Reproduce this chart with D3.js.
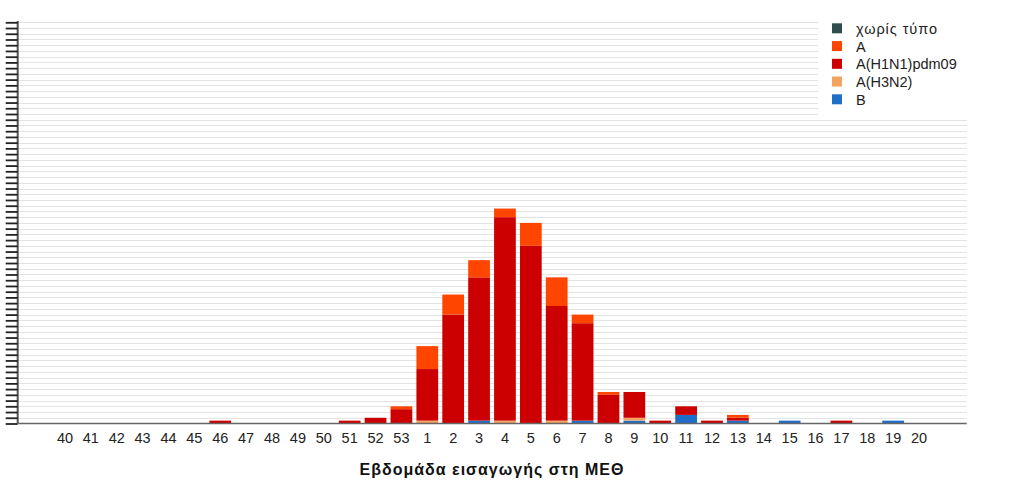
<!DOCTYPE html>
<html>
<head>
<meta charset="utf-8">
<script src="https://cdn.jsdelivr.net/npm/d3@7"></script>
<style>
  html, body { margin: 0; padding: 0; background: #fff; }
  svg { display: block; }
  text { font-family: "Liberation Sans", Arial, Helvetica, sans-serif; }
</style>
</head>
<body>
<svg id="chart" width="1013" height="494"></svg>
<script>
// ---- data ----
const weeks = ["40","41","42","43","44","45","46","47","48","49","50","51","52","53",
               "1","2","3","4","5","6","7","8","9","10","11","12","13","14","15","16","17","18","19","20"];
// series values, one per week
const untyped = [0,0,0,0,0,0,0,0,0,0,0,0,0,0, 0,0,0,0,0,0,0,0,0,0,0,0,0,0,0,0,0,0,0,0];
const typeA   = [0,0,0,0,0,0,0,0,0,0,0,0,0,1, 8,7,6,3,8,10,3,1,0,0,0,0,1,0,0,0,0,0,0,0];
const h1n1    = [0,0,0,0,0,0,1,0,0,0,0,1,2,5, 18,38,50,71,62,40,34,10,9,1,3,1,1,0,0,0,1,0,0,0];
const h3n2    = [0,0,0,0,0,0,0,0,0,0,0,0,0,0, 1,0,0,1,0,1,0,0,1,0,0,0,0,0,0,0,0,0,0,0];
const typeB   = [0,0,0,0,0,0,0,0,0,0,0,0,0,0, 0,0,1,0,0,0,1,0,1,0,3,0,1,0,1,0,0,0,1,0];
const seriesNames = ["χωρίς τύπο","A","A(H1N1)pdm09","A(H3N2)","B"];
const seriesColors = ["#2f4f4f","#ff4500","#cc0000","#f4a460","#1f6fc8"];
const yMax = 140;
const yTickStep = 2;
const xTitle = "Εβδομάδα εισαγωγής στη ΜΕΘ";

// ---- build table ----
const valuesByName = {"χωρίς τύπο": untyped, "A": typeA, "A(H1N1)pdm09": h1n1, "A(H3N2)": h3n2, "B": typeB};
const table = weeks.map((w, i) => {
  const row = {week: w};
  seriesNames.forEach(n => row[n] = valuesByName[n][i]);
  return row;
});
const stackOrder = seriesNames.slice().reverse(); // bottom to top: B, H3N2, H1N1, A, untyped
const color = d3.scaleOrdinal().domain(seriesNames).range(seriesColors);

const svg = d3.select("#chart");
const axisLeft = 17.7, axisRight = 966.7;
const y0 = 423.5, yTop = 22.3;

const x = d3.scaleBand().domain(weeks).range([52, 932]).paddingInner(0.16).paddingOuter(0.08);
const y = d3.scaleLinear().domain([0, yMax]).range([y0, yTop]);
const yTicks = d3.range(0, yMax + 0.001, yTickStep);

// gridlines
svg.append("g").selectAll("line").data(yTicks.filter(t => t > 0)).join("line")
  .attr("x1", axisLeft).attr("x2", axisRight)
  .attr("y1", d => Math.round(y(d)) + 0.5).attr("y2", d => Math.round(y(d)) + 0.5)
  .attr("stroke", "#e3e3e3").attr("stroke-width", 1);

// stacked bars
const stacked = d3.stack().keys(stackOrder)(table);
svg.append("g").selectAll("g").data(stacked).join("g")
  .attr("fill", d => color(d.key))
  .selectAll("rect").data(d => d.filter(s => s[1] - s[0] > 0)).join("rect")
  .attr("x", d => x(d.data.week))
  .attr("width", x.bandwidth())
  .attr("y", d => y(d[1]))
  .attr("height", d => y(d[0]) - y(d[1]));

// y axis (ticks without labels)
const yAxis = d3.axisLeft(y).tickValues(yTicks).tickFormat("").tickSizeInner(12).tickSizeOuter(0);
const gy = svg.append("g").attr("transform", `translate(${axisLeft},0)`).call(yAxis);
gy.select(".domain").attr("stroke", "#555").attr("stroke-width", 2).attr("d", `M0,${21}V${y0}`);
gy.selectAll(".tick line").attr("stroke", "#222").attr("stroke-width", 1.8);

// x axis
const xAxis = d3.axisBottom(x).tickSize(0).tickPadding(0);
const gx = svg.append("g").attr("transform", `translate(0,${y0})`).call(xAxis);
gx.select(".domain").attr("stroke", "#666").attr("stroke-width", 1.5).attr("d", `M${axisLeft},0H${axisRight}`);
gx.selectAll(".tick text").attr("y", 19).attr("dy", 0)
  .attr("font-size", 14.5).attr("fill", "#222")
  .attr("font-family", "'Liberation Sans', Arial, sans-serif");

// x title
svg.append("text").attr("x", 492).attr("y", 475).attr("text-anchor", "middle")
  .attr("font-size", 16).attr("font-weight", "bold").attr("fill", "#111")
  .attr("letter-spacing", 1)
  .text(xTitle);

// legend
const lg = svg.append("g");
lg.append("rect").attr("x", 818).attr("y", 12).attr("width", 150).attr("height", 106).attr("fill", "#fff");
const items = lg.selectAll("g.item").data(seriesNames).join("g").attr("class", "item")
  .attr("transform", (d, i) => `translate(832,${28.3 + i * 17.75})`);
items.append("rect").attr("x", 0).attr("y", -5).attr("width", 10).attr("height", 10).attr("fill", d => color(d));
items.append("text").attr("x", 24).attr("y", 5.5).attr("font-size", 14.5).attr("fill", "#222")
  .each(function(d) { if (d === "χωρίς τύπο") d3.select(this).attr("textLength", 81).attr("lengthAdjust", "spacing"); })
  .text(d => d);
</script>
</body>
</html>
